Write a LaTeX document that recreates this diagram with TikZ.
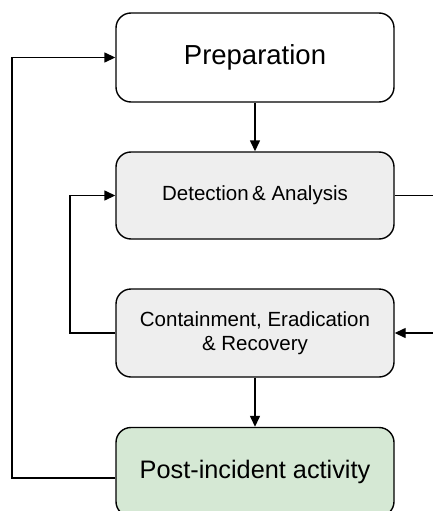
\documentclass[tikz,border=0pt]{standalone}
\usepackage{fontspec}
\setmainfont{Liberation Sans}
\usetikzlibrary{arrows.meta}
\definecolor{stepgrey}{HTML}{EEEEEE}
\definecolor{stepgreen}{HTML}{D5E8D4}
\tikzset{
  phase/.style={draw=black, line width=1.4pt, rounded corners=15pt,
    minimum width=278pt, align=center, inner sep=0pt},
  link/.style={draw=black, line width=1.4pt},
  flow/.style={link, -{Triangle[length=11pt,width=10pt]}},
}
\begin{document}
\begin{tikzpicture}[x=1pt, y=-1pt]
  \clip (0,0) rectangle (433,511);
  \fill[white] (0,0) rectangle (433,511);

  % the four phases
  \node[phase, fill=white, minimum height=89pt,
        font=\fontsize{27.5}{31}\selectfont] (prep) at (255,57.5) {Preparation};
  \node[phase, fill=stepgrey, minimum height=87pt,
        font=\fontsize{20.5}{24}\selectfont] (det) at (255,195.5) {Detection\,\&\ Analysis};
  \node[phase, fill=stepgrey, minimum height=88pt,
        font=\fontsize{20.5}{24}\selectfont] (cont) at (255,333) {Containment, Eradication\\\& Recovery};
  \node[phase, fill=stepgreen, minimum height=89pt,
        font=\fontsize{25.3}{29}\selectfont] (post) at (255,472) {Post-incident activity};

  % bend points and free ends of the connectors
  \coordinate (outer) at (12,478);
  \coordinate (inner) at (70,333);
  \coordinate (detout) at (433,195.5);
  \coordinate (contin) at (433,333);

  % main flow
  \draw[flow] (prep.south) -- (det.north);
  \draw[flow] (cont.south) -- (post.north);

  % feedback loops
  \draw[flow] (post.west |- outer) -- (outer) |- (prep.west);
  \draw[flow] (cont.west) -- (inner) |- (det.west);

  % connectors leaving to the right
  \draw[link] (det.east) -- (detout);
  \draw[flow] (contin) -- (cont.east);
\end{tikzpicture}
\end{document}
